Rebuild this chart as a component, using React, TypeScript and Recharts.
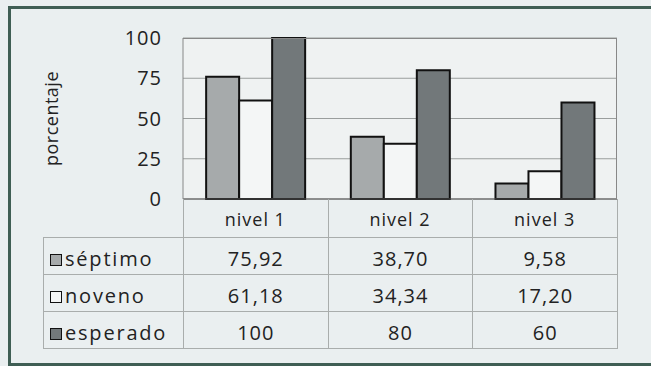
import { BarChart, Bar, XAxis, YAxis, CartesianGrid, Label } from 'recharts'

const niveles = ['nivel 1', 'nivel 2', 'nivel 3']
const septimo = [75.92, 38.7, 9.58]
const noveno = [61.18, 34.34, 17.2]
const esperado = [100, 80, 60]
const yTicks = [0, 25, 50, 75, 100]

const series = [
  { key: 'septimo', name: 'séptimo', values: septimo, fill: '#a6aaab', digits: 2 },
  { key: 'noveno', name: 'noveno', values: noveno, fill: '#f4f6f6', digits: 2 },
  { key: 'esperado', name: 'esperado', values: esperado, fill: '#72787a', digits: 0 },
]

const data = niveles.map((nivel, i) => ({
  nivel,
  septimo: septimo[i],
  noveno: noveno[i],
  esperado: esperado[i],
}))

const FONT = '"Open Sans", Lato, sans-serif'
const W = 651
const H = 366
const PLOT_LEFT = 183
const PLOT_RIGHT = 617
const PLOT_TOP = 38
const PLOT_BOTTOM = 199
const HEAD_H = 38
const LINE = '#a9adac'

const fmt = (v: number, digits: number) => v.toFixed(digits).replace('.', ',')

export default function App() {
  const colW = (PLOT_RIGHT - PLOT_LEFT) / niveles.length
  const cell = {
    border: `1px solid ${LINE}`,
    padding: '4px 0 0 0',
    height: 32,
    textAlign: 'center' as const,
  }

  return (
    <div
      style={{
        position: 'absolute',
        left: 0,
        top: 0,
        width: W,
        height: H,
        overflow: 'hidden',
        background: '#eaeff0',
        fontFamily: FONT,
        color: '#222',
      }}
    >
      {/* green frame, runs off the right edge */}
      <div
        style={{
          position: 'absolute',
          left: 8,
          top: 6,
          width: 680,
          height: 354,
          border: '3px solid #3f5e54',
        }}
      />

      <BarChart
        width={W}
        height={H}
        data={data}
        barGap={0}
        barCategoryGap="16%"
        margin={{ top: PLOT_TOP, right: W - PLOT_RIGHT, bottom: H - PLOT_BOTTOM - HEAD_H, left: 0 }}
        style={{ position: 'absolute', left: 0, top: 0 }}
      >
        <CartesianGrid vertical={false} stroke="#9a9e9d" fill="#eff2f2" />
        <XAxis
          dataKey="nivel"
          height={HEAD_H}
          axisLine={{ stroke: '#555' }}
          tickLine={false}
          tickSize={0}
          tickMargin={14}
          tick={{ fill: '#222', fontSize: 18, fontFamily: FONT, letterSpacing: 1 }}
        />
        <YAxis
          width={PLOT_LEFT}
          domain={[0, 100]}
          ticks={yTicks}
          axisLine={{ stroke: '#888' }}
          tickLine={false}
          tickSize={0}
          tickMargin={21}
          tick={{ fill: '#222', fontSize: 20, fontFamily: FONT, letterSpacing: 1 }}
        >
          <Label
            value="porcentaje"
            angle={-90}
            position="insideLeft"
            offset={52}
            style={{ fill: '#222', fontSize: 18, fontFamily: FONT, textAnchor: 'middle', letterSpacing: 0.5 }}
          />
        </YAxis>
        {series.map((s) => (
          <Bar
            key={s.key}
            dataKey={s.key}
            name={s.name}
            fill={s.fill}
            stroke="#111"
            strokeWidth={2}
            isAnimationActive={false}
          />
        ))}
      </BarChart>

      {/* plot frame: top and right edges */}
      <div
        style={{
          position: 'absolute',
          left: PLOT_LEFT,
          top: PLOT_TOP,
          width: PLOT_RIGHT - PLOT_LEFT - 1,
          height: PLOT_BOTTOM - PLOT_TOP,
          borderTop: '1px solid #888',
          borderRight: '1px solid #888',
          pointerEvents: 'none',
        }}
      />

      {/* data table under the axis */}
      <table
        style={{
          position: 'absolute',
          left: 43,
          top: PLOT_BOTTOM,
          borderCollapse: 'collapse',
          tableLayout: 'fixed',
          width: PLOT_RIGHT - 43,
          fontSize: 20,
          letterSpacing: 1,
        }}
      >
        <colgroup>
          <col style={{ width: PLOT_LEFT - 43 }} />
          {niveles.map((n) => (
            <col key={n} style={{ width: colW }} />
          ))}
        </colgroup>
        <tbody>
          <tr>
            <td style={{ padding: 0, height: HEAD_H, borderBottom: `1px solid ${LINE}` }} />
            {niveles.map((n) => (
              <td key={n} style={{ ...cell, borderTop: 'none', padding: 0, height: HEAD_H }} />
            ))}
          </tr>
          {series.map((s) => (
            <tr key={s.key}>
              <td style={{ ...cell, textAlign: 'left', whiteSpace: 'nowrap', letterSpacing: 1.8 }}>
                <span
                  style={{
                    display: 'inline-block',
                    width: 10,
                    height: 10,
                    marginLeft: 6,
                    marginRight: 3,
                    background: s.fill,
                    border: '1.5px solid #111',
                    verticalAlign: '0px',
                  }}
                />
                {s.name}
              </td>
              {s.values.map((v, i) => (
                <td key={i} style={cell}>
                  {fmt(v, s.digits)}
                </td>
              ))}
            </tr>
          ))}
        </tbody>
      </table>
    </div>
  )
}
